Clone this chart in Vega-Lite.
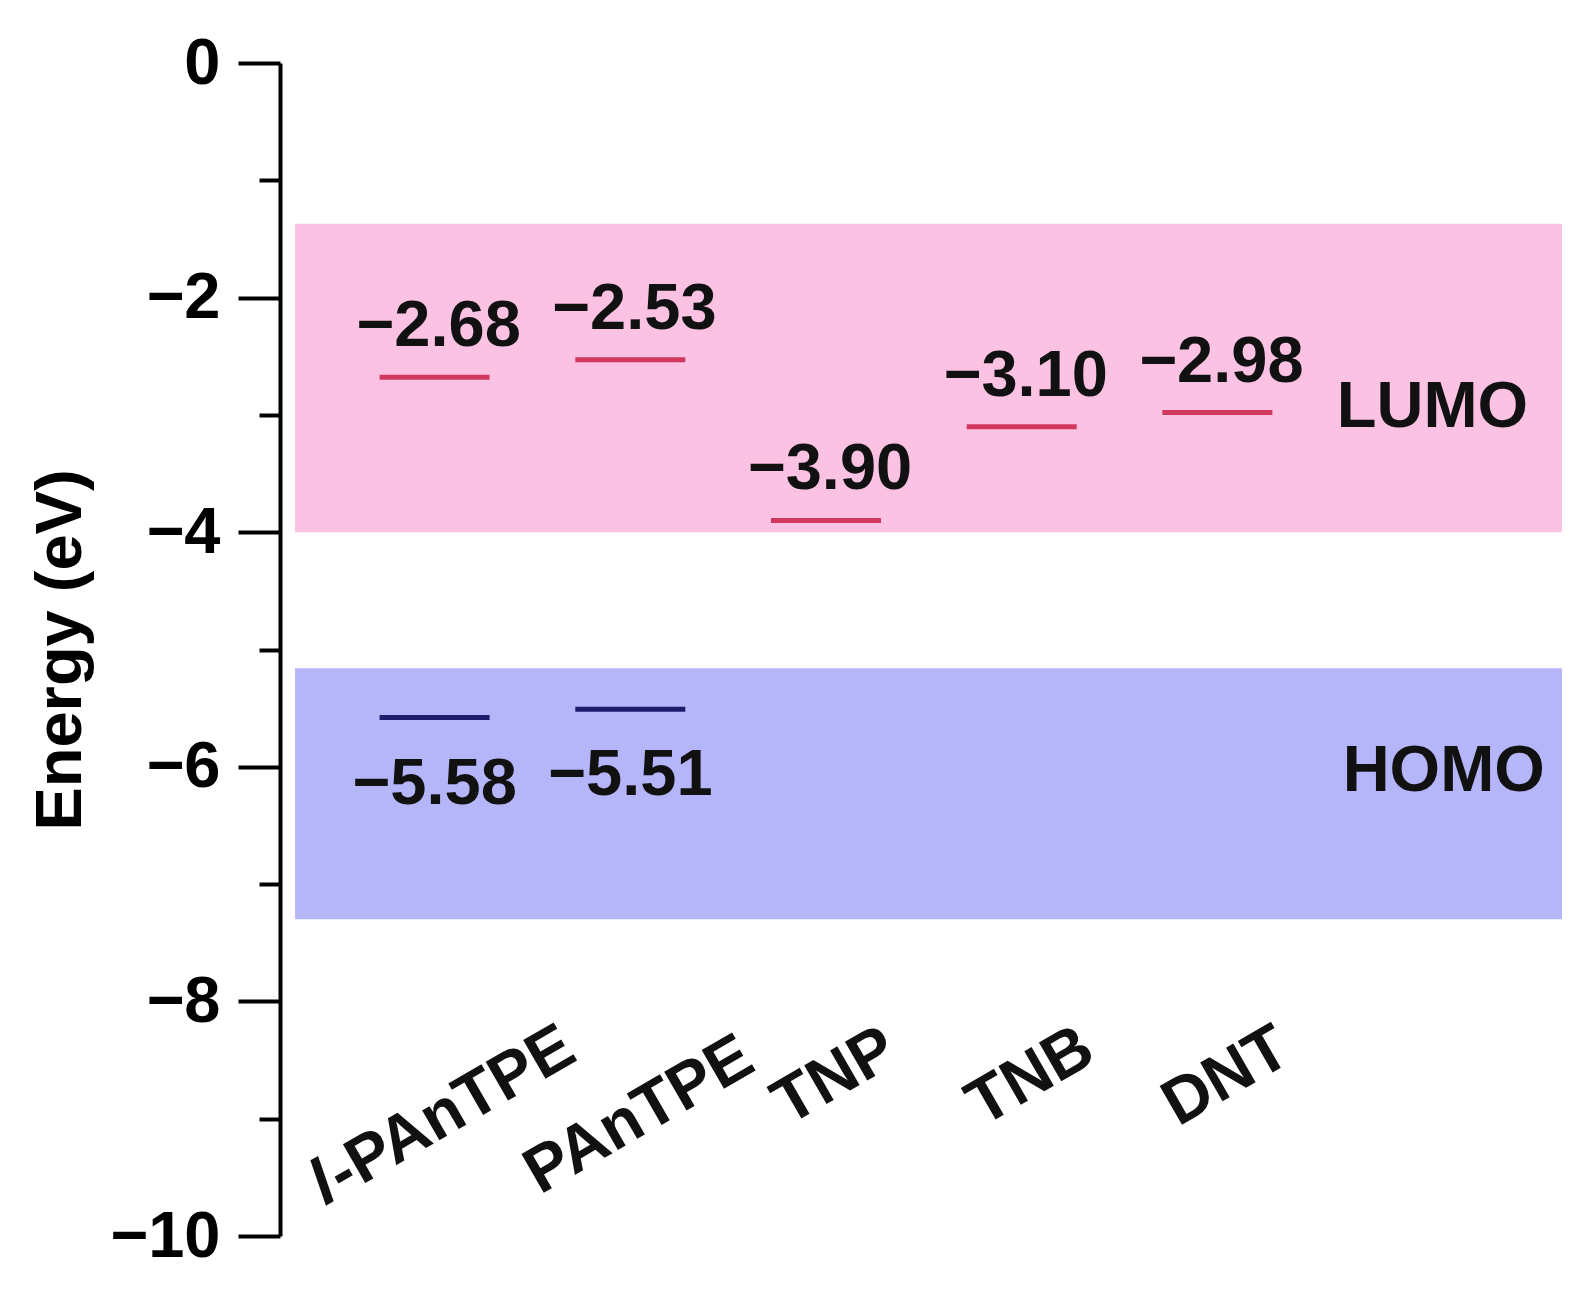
{
  "$schema": "https://vega.github.io/schema/vega-lite/v6.json",
  "autosize": {"type": "none"},
  "padding": {"left": 280, "top": 63, "right": 33, "bottom": 70},
  "width": 1282,
  "height": 1173,
  "background": "white",
  "config": {"view": {"stroke": null}},
  "datasets": {
    "levels": [
      {"name": "l-PAnTPE", "idx": 1, "lumo": -2.68, "homo": -5.58},
      {"name": "PAnTPE", "idx": 2, "lumo": -2.53, "homo": -5.51},
      {"name": "TNP", "idx": 3, "lumo": -3.90, "homo": null},
      {"name": "TNB", "idx": 4, "lumo": -3.10, "homo": null},
      {"name": "DNT", "idx": 5, "lumo": -2.98, "homo": null}
    ],
    "bands": [
      {"kind": "LUMO", "x1": 0.287, "x2": 6.761, "y1": -1.37, "y2": -4.0},
      {"kind": "HOMO", "x1": 0.287, "x2": 6.761, "y1": -5.16, "y2": -7.3}
    ],
    "notes": [
      {"label": "LUMO", "x": 5.61, "y": -3.10},
      {"label": "HOMO", "x": 5.64, "y": -6.21}
    ]
  },
  "layer": [
    {
      "data": {"name": "bands"},
      "mark": {"type": "rect"},
      "encoding": {
        "x": {"field": "x1", "type": "quantitative", "scale": {"domain": [0.21, 6.761], "nice": false, "zero": false}, "axis": null},
        "x2": {"field": "x2"},
        "y": {"field": "y1", "type": "quantitative", "title": "Energy (eV)",
          "scale": {"domain": [-10, 0], "nice": false, "zero": false},
          "axis": {
            "values": [0, -1, -2, -3, -4, -5, -6, -7, -8, -9, -10],
            "format": "d",
            "tickSize": {"condition": {"test": "datum.value % 2 === 0", "value": 42}, "value": 21},
            "labelExpr": "datum.value % 2 === 0 ? datum.label : ''",
            "tickWidth": 4, "tickColor": "black",
            "domainWidth": 4, "domainColor": "black",
            "grid": false,
            "labelFont": "Liberation Sans", "labelFontWeight": "bold", "labelFontSize": 65, "labelColor": "black",
            "labelPadding": 18, "labelFlush": false, "labelOverlap": false, "labelBound": false,
            "titleFont": "Liberation Sans", "titleFontWeight": "bold", "titleFontSize": 65, "titleColor": "black",
            "titleAngle": -90, "titleX": -200, "titleY": 586.5, "titleAlign": "center", "titleBaseline": "alphabetic"
          }
        },
        "y2": {"field": "y2"},
        "color": {"field": "kind", "type": "nominal", "scale": {"domain": ["LUMO", "HOMO"], "range": ["#fcc2e4", "#b5b5fa"]}, "legend": null}
      }
    },
    {
      "data": {"name": "levels"},
      "mark": {"type": "tick", "orient": "horizontal", "size": 110, "thickness": 5, "color": "#d0385e", "opacity": 1},
      "encoding": {
        "x": {"field": "idx", "type": "quantitative"},
        "y": {"field": "lumo", "type": "quantitative", "title": "Energy (eV)"}
      }
    },
    {
      "data": {"name": "levels"},
      "transform": [{"filter": "datum.homo != null"}],
      "mark": {"type": "tick", "orient": "horizontal", "size": 110, "thickness": 5, "color": "#1c1c6b", "opacity": 1},
      "encoding": {
        "x": {"field": "idx", "type": "quantitative"},
        "y": {"field": "homo", "type": "quantitative", "title": "Energy (eV)"}
      }
    },
    {
      "data": {"name": "levels"},
      "mark": {"type": "text", "font": "Liberation Sans", "fontWeight": "bold", "fontSize": 65, "color": "#111111", "align": "center", "baseline": "alphabetic", "dy": -31, "dx": 4},
      "encoding": {
        "x": {"field": "idx", "type": "quantitative"},
        "y": {"field": "lumo", "type": "quantitative", "title": "Energy (eV)"},
        "text": {"field": "lumo", "type": "quantitative", "format": ".2f"}
      }
    },
    {
      "data": {"name": "levels"},
      "transform": [{"filter": "datum.homo != null"}],
      "mark": {"type": "text", "font": "Liberation Sans", "fontWeight": "bold", "fontSize": 65, "color": "#111111", "align": "center", "baseline": "alphabetic", "dy": 86, "dx": 0},
      "encoding": {
        "x": {"field": "idx", "type": "quantitative"},
        "y": {"field": "homo", "type": "quantitative", "title": "Energy (eV)"},
        "text": {"field": "homo", "type": "quantitative", "format": ".2f"}
      }
    },
    {
      "data": {"name": "notes"},
      "mark": {"type": "text", "font": "Liberation Sans", "fontWeight": "bold", "fontSize": 65, "color": "#111111", "align": "left", "baseline": "alphabetic"},
      "encoding": {
        "x": {"field": "x", "type": "quantitative"},
        "y": {"field": "y", "type": "quantitative", "title": "Energy (eV)"},
        "text": {"field": "label"}
      }
    },
    {
      "data": {"name": "levels"},
      "transform": [{"filter": "datum.idx >= 3"}],
      "mark": {"type": "text", "font": "Liberation Sans", "fontWeight": "bold", "fontSize": 65, "color": "#111111", "align": "center", "baseline": "middle", "angle": -30, "dx": 10},
      "encoding": {
        "x": {"field": "idx", "type": "quantitative"},
        "y": {"datum": -8.68, "type": "quantitative"},
        "text": {"field": "name"}
      }
    },
    {
      "data": {"name": "levels"},
      "transform": [{"filter": "datum.name == 'PAnTPE'"}],
      "mark": {"type": "text", "font": "Liberation Sans", "fontWeight": "bold", "fontSize": 65, "color": "#111111", "align": "center", "baseline": "middle", "angle": -30, "dx": 10},
      "encoding": {
        "x": {"field": "idx", "type": "quantitative"},
        "y": {"datum": -9.01, "type": "quantitative"},
        "text": {"field": "name"}
      }
    },
    {
      "data": {"name": "levels"},
      "transform": [{"filter": "datum.name == 'l-PAnTPE'"}],
      "mark": {"type": "text", "font": "Liberation Sans", "fontWeight": "bold", "fontSize": 65, "color": "#111111", "align": "center", "baseline": "middle", "angle": -30, "dx": 19},
      "encoding": {
        "x": {"field": "idx", "type": "quantitative"},
        "y": {"datum": -9.01, "type": "quantitative"},
        "text": {"value": "-PAnTPE"}
      }
    },
    {
      "data": {"name": "levels"},
      "transform": [{"filter": "datum.name == 'l-PAnTPE'"}],
      "mark": {"type": "text", "font": "Liberation Sans", "fontWeight": "bold", "fontStyle": "italic", "fontSize": 65, "color": "#111111", "align": "right", "baseline": "middle", "angle": -30, "dx": -120},
      "encoding": {
        "x": {"field": "idx", "type": "quantitative"},
        "y": {"datum": -9.01, "type": "quantitative"},
        "text": {"value": "l"}
      }
    }
  ]
}
